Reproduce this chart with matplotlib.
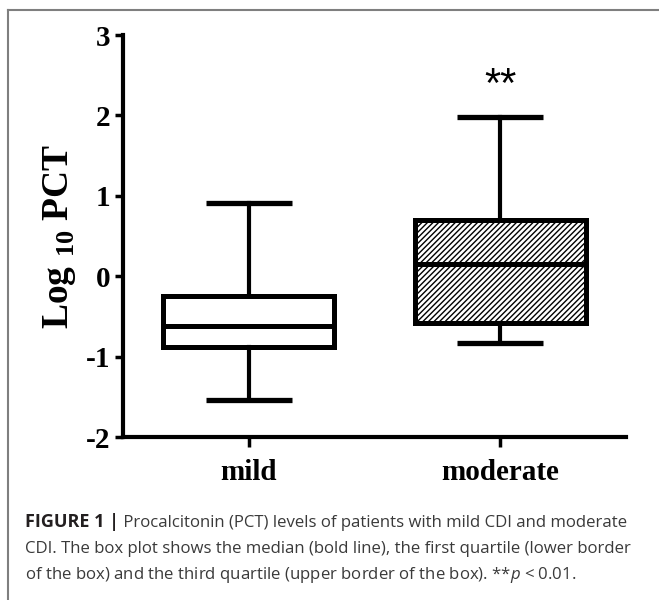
import matplotlib
matplotlib.use("Agg")
import matplotlib.pyplot as plt
from matplotlib.lines import Line2D

# values (log10 PCT)
groups = ["mild", "moderate"]
whisker_low = [-1.54, -0.83]
q1 = [-0.88, -0.58]
median = [-0.62, 0.15]
q3 = [-0.245, 0.70]
whisker_high = [0.91, 1.98]
hatches = ["", "//////"]
star_label = "**"
star_y = 2.37
y_ticks = [-2, -1, 0, 1, 2, 3]

caption_lines = [
    " Procalcitonin (PCT) levels of patients with mild CDI and moderate",
    "CDI. The box plot shows the median (bold line), the first quartile (lower border",
    "of the box) and the third quartile (upper border of the box). **$p$ < 0.01.",
]

plt.rcParams["mathtext.fontset"] = "custom"
plt.rcParams["mathtext.bf"] = "Liberation Serif:bold"
plt.rcParams["mathtext.it"] = "Open Sans:italic"
plt.rcParams["mathtext.rm"] = "Open Sans"
plt.rcParams["hatch.linewidth"] = 1.0
plt.rcParams["hatch.color"] = "black"

W, H = 659, 600
fig = plt.figure(figsize=(W / 100, H / 100), dpi=100)
ax = fig.add_axes([123 / W, 1 - 437 / H, (626 - 123) / W, (437 - 35) / H])

stats = []
for g, lo, a, m, b, hi in zip(groups, whisker_low, q1, median, q3, whisker_high):
    stats.append(dict(label=g, whislo=lo, q1=a, med=m, q3=b, whishi=hi, fliers=[]))

bp = ax.bxp(
    stats, positions=[1, 2], widths=0.68, capwidths=0.34,
    patch_artist=True, showfliers=False,
    boxprops=dict(facecolor="white", edgecolor="black", linewidth=3.6),
    medianprops=dict(color="black", linewidth=3.6, solid_capstyle="butt"),
    whiskerprops=dict(color="black", linewidth=3),
    capprops=dict(color="black", linewidth=3.8, solid_capstyle="butt"),
)
for box, h in zip(bp["boxes"], hatches):
    box.set_hatch(h)

ax.text(2, star_y, star_label, ha="center", va="center", fontsize=30,
        family="Liberation Sans")

ax.set_xlim(0.5, 2.5)
ax.set_ylim(-2, 3)
for side in ["top", "right"]:
    ax.spines[side].set_visible(False)
for side in ["left", "bottom"]:
    ax.spines[side].set_linewidth(3)
    ax.spines[side].set_capstyle("projecting")

serif_bold = dict(family="Liberation Serif", weight="bold")
ax.set_xticks([1, 2])
ax.set_xticklabels(groups, fontsize=21, **serif_bold)
ax.set_yticks(y_ticks)
ax.set_yticklabels([str(v) for v in y_ticks], fontsize=21, **serif_bold)
ax.tick_params(axis="y", length=6, width=2.5, pad=3)
ax.tick_params(axis="x", length=7, width=2.5, pad=9)
ax.set_ylabel(r"Log $_{\mathbf{10}}$ PCT", fontsize=27, labelpad=6, **serif_bold)

# frame of the figure panel
frame_kw = dict(color="#7f7f7f", linewidth=1.5, transform=fig.transFigure)
fig.add_artist(Line2D([8 / W, 8 / W], [0, 1 - 10 / H], **frame_kw))
fig.add_artist(Line2D([8 / W, 1], [1 - 10 / H, 1 - 10 / H], **frame_kw))

# caption
cap_kw = dict(family="Open Sans", fontsize=12.1, va="baseline")
x0 = 25 / W
t = fig.text(x0, 1 - 527 / H, "FIGURE 1 |", family="Open Sans", fontsize=13,
             va="baseline", weight="bold", color="#231f20")
renderer = fig.canvas.get_renderer()
bb = t.get_window_extent(renderer)
fig.text(bb.x1 / fig.bbox.width, 1 - 527 / H, caption_lines[0], color="#3a3a3a", **cap_kw)
fig.text(x0, 1 - 553 / H, caption_lines[1], color="#3a3a3a", **cap_kw)
fig.text(x0, 1 - 579 / H, caption_lines[2], color="#3a3a3a", **cap_kw)

fig.savefig("out.png", dpi=100)
